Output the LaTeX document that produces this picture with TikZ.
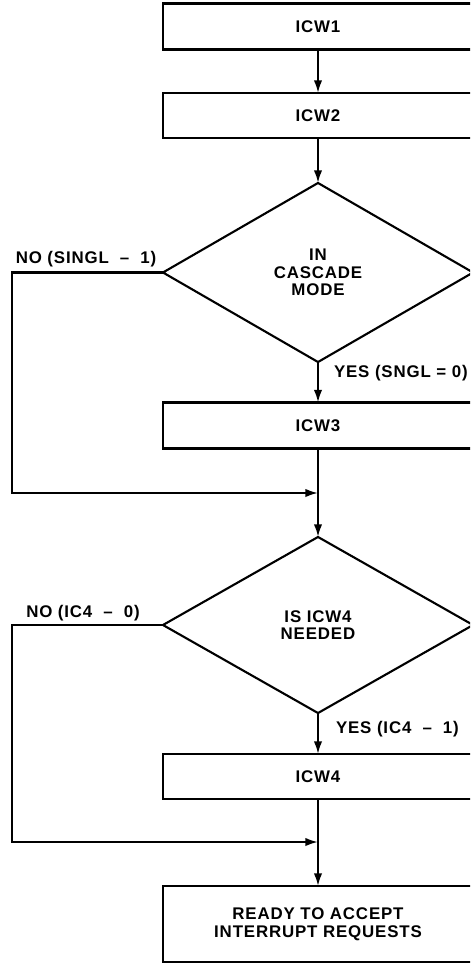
\documentclass[tikz,border=0pt]{standalone}
\usepackage{fontspec}
\setmainfont{Liberation Sans}
\newfontfamily\flowfont[LetterSpace=5]{Liberation Sans}
\usetikzlibrary{shapes.geometric,arrows.meta,positioning}
\tikzset{
  flownode/.style = {draw, align=center, line width=1.5pt,
                     inner sep=0pt, outer sep=0pt,
                     font=\flowfont\bfseries\fontsize{12}{12.5}\selectfont},
  regbox/.style   = {flownode, shape=rectangle, minimum width=7.75cm,
                     minimum height=1.15cm},
  decision/.style = {flownode, shape=diamond, minimum width=7.75cm},
  branch/.style   = {inner sep=0pt,
                     font=\flowfont\bfseries\fontsize{12}{12.5}\selectfont}
}

\begin{document}
\begin{tikzpicture}
    [
      x          = 0.025cm,
      y          = -0.025cm,
      line width = 1.5pt,
      >          = {Latex[length=9pt,width=6pt]}
    ]
    \useasboundingbox (0,0) rectangle (470,964);
    \clip (0,0) rectangle (470,964);

    \node [regbox] (icw1) at (318,26.5) {ICW1};
    \node [regbox, minimum height=1.125cm] (icw2) at (318,115.5) {ICW2};
    \node [decision, minimum height=4.475cm] (cascade) at (318,272.5)
      {IN\\CASCADE\\MODE};
    \node [regbox] (icw3) at (318,425.5) {ICW3};
    \node [decision, minimum height=4.4cm] (needed) at (318,625)
      {IS ICW4\\NEEDED};
    \node [regbox, minimum height=1.125cm] (icw4) at (318,776.5) {ICW4};
    \node [regbox, minimum height=1.9cm] (ready) at (318,924)
      {READY TO ACCEPT\\INTERRUPT REQUESTS};

    \coordinate (join1) at (318,493);
    \coordinate (join2) at (318,842);
    \coordinate (skip1) at (12,493);
    \coordinate (skip2) at (12,842);

    \draw [->] (icw1) -- (icw2);
    \draw [->] (icw2) -- (cascade);
    \draw [->] (cascade) -- (icw3);
    \draw [->] (icw3) -- (needed);
    \draw [->] (needed) -- (icw4);
    \draw [->] (icw4) -- (ready);
    \draw [->] (cascade.west) -| (skip1) -- (join1);
    \draw [->] (needed.west) -| (skip2) -- (join2);

    \node [branch] (nosingl) at (86,259) {NO (SINGL \ – \ 1)};
    \node [branch, anchor=west] (yessngl) at (333,373) {YES (SNGL = 0)};
    \node [branch] (noic4) at (83,613) {NO (IC4 \ – \ 0)};
    \node [branch, anchor=west] (yesic4) at (335,729) {YES (IC4 \ – \ 1)};
\end{tikzpicture}
\end{document}
